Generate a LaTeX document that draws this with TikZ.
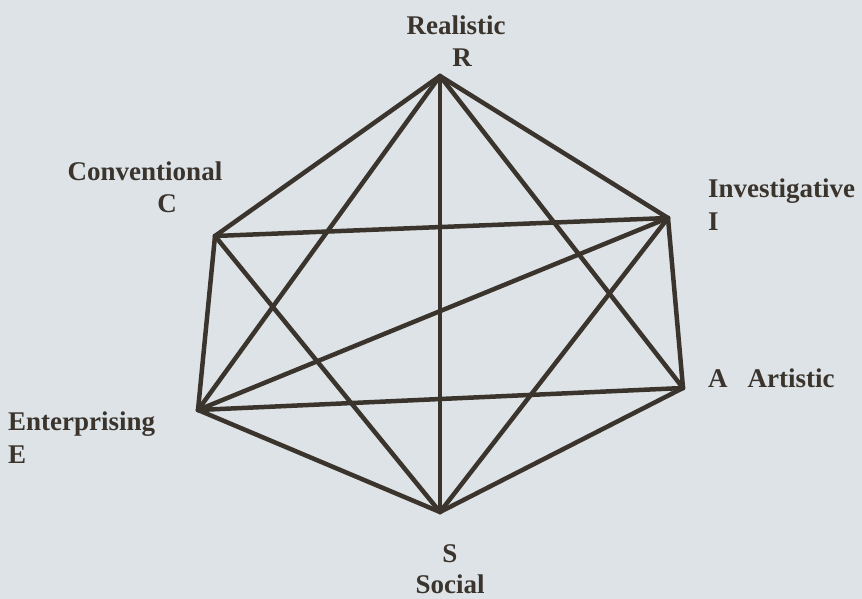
\documentclass[tikz,border=0pt]{standalone}
\usepackage{fontspec}
\setmainfont{Liberation Serif}

\definecolor{paper}{HTML}{DDE3E7}
\definecolor{ink}{HTML}{3A342D}

\tikzset{
  hexedge/.style={ink, line width=4.5pt, line cap=round, line join=round},
  typelabel/.style={ink, font=\fontsize{27}{30}\selectfont\bfseries, inner sep=0pt},
}

\begin{document}
\begin{tikzpicture}[x=1pt,y=-1pt]
    % Page background
    \fill[paper] (0,0) rectangle (862,599);
    \useasboundingbox (0,0) rectangle (862,599);

    % Corners of the hexagon
    \coordinate (R) at (440,76);
    \coordinate (I) at (668,218);
    \coordinate (A) at (683,388);
    \coordinate (S) at (440,512);
    \coordinate (E) at (198,410);
    \coordinate (C) at (215,236);

    % Joins between the types (no C--A line)
    \foreach \a/\b in {R/I,R/A,R/S,R/E,R/C,I/A,I/S,I/E,I/C,A/S,A/E,S/E,S/C,E/C} {
        \draw[hexedge] (\a) -- (\b);
    }

    % Labels
    \node[typelabel, anchor=base] (realistic) at (456,35) {Realistic};
    \node[typelabel, anchor=base] (rlabel) at (462,67) {R};
    \node[typelabel, anchor=base] (conventional) at (145,180) {Conventional};
    \node[typelabel, anchor=base] (clabel) at (167,212) {C};
    \node[typelabel, anchor=base west] (investigative) at (708,197) {Investigative};
    \node[typelabel, anchor=base west] (ilabel) at (708,230) {I};
    \node[typelabel, anchor=base west] (artistic) at (708,387) {A\hspace{20pt}Artistic};
    \node[typelabel, anchor=base west] (enterprising) at (8,430) {Enterprising};
    \node[typelabel, anchor=base west] (elabel) at (8,463) {E};
    \node[typelabel, anchor=base] (slabel) at (450,562) {S};
    \node[typelabel, anchor=base] (social) at (450,593) {Social};
\end{tikzpicture}
\end{document}
